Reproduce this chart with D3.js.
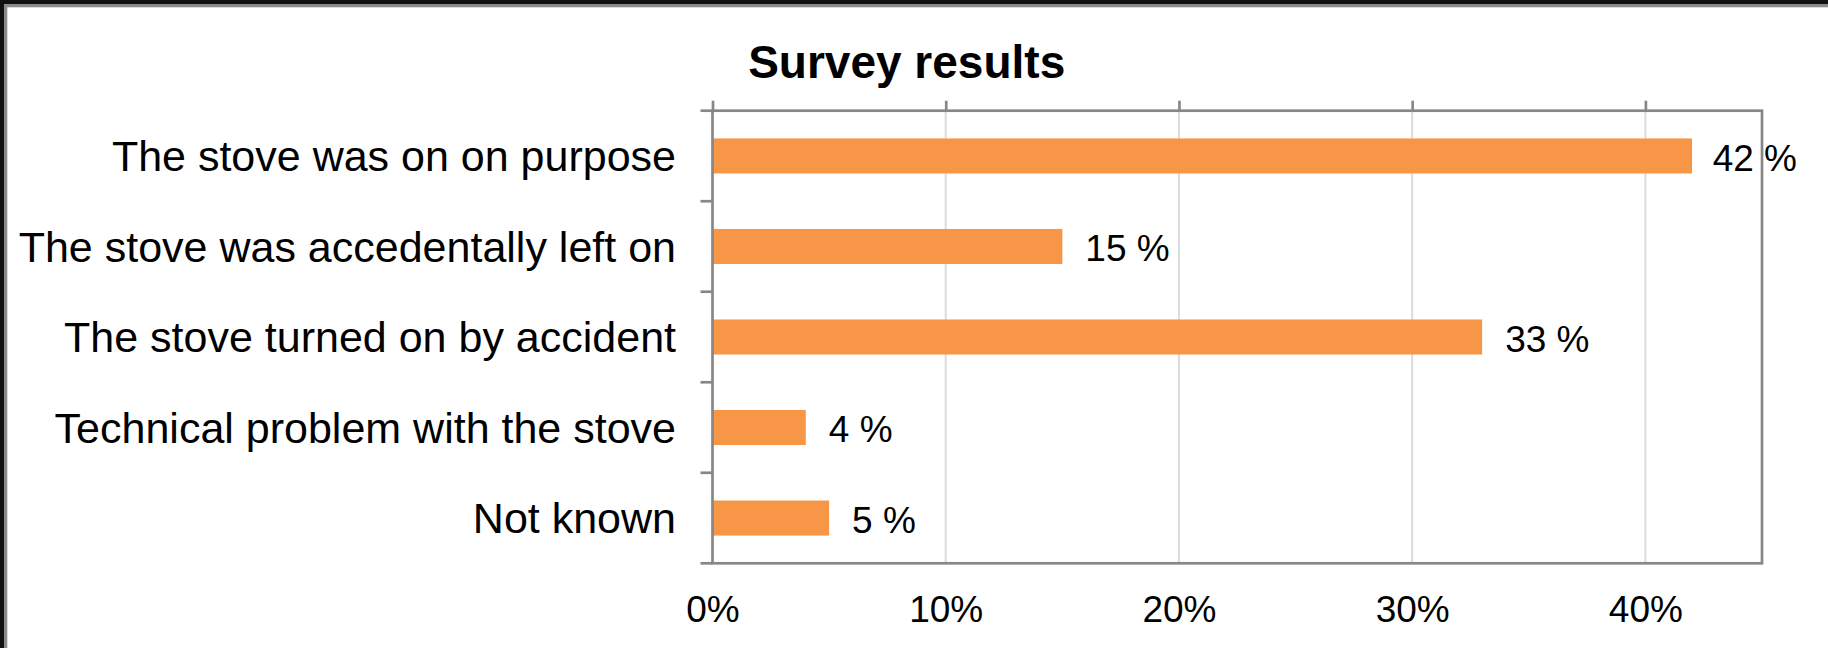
<!DOCTYPE html>
<html>
<head>
<meta charset="utf-8">
<script src="https://cdn.jsdelivr.net/npm/d3@7"></script>
<style>
  html, body { margin: 0; padding: 0; background: #ffffff; }
  svg { display: block; }
  text { font-family: "Liberation Sans", Arial, sans-serif; fill: #000; }
</style>
</head>
<body>
<svg id="chart" width="1828" height="648"></svg>
<script>
// Survey answers and their shares (percent)
const categories = [
  "The stove was on on purpose",
  "The stove was accedentally left on",
  "The stove turned on by accident",
  "Technical problem with the stove",
  "Not known"
];
const shares = [42, 15, 33, 4, 5];
const xTicks = [0, 10, 20, 30, 40];
const xMax = 45;
const chartTitle = "Survey results";

const width = 1828, height = 648;
const plot = { left: 712.5, right: 1762, top: 110.7, bottom: 563.3 };

const svg = d3.select("#chart");

// outer frame (dark edge with grey inner band, top and left)
svg.append("rect").attr("x", 0).attr("y", 0).attr("width", width).attr("height", 4).attr("fill", "#111");
svg.append("rect").attr("x", 0).attr("y", 0).attr("width", 4).attr("height", height).attr("fill", "#111");
svg.append("rect").attr("x", 4).attr("y", 4).attr("width", width - 4).attr("height", 3.3).attr("fill", "#8a8a8a");
svg.append("rect").attr("x", 4).attr("y", 4).attr("width", 3.3).attr("height", height - 4).attr("fill", "#8a8a8a");

const x = d3.scaleLinear().domain([0, xMax]).range([plot.left, plot.right]);
const y = d3.scaleBand().domain(categories).range([plot.top, plot.bottom])
  .paddingInner(0.613).paddingOuter(0.3065);

// vertical gridlines
svg.append("g").selectAll("line").data(xTicks.filter(d => d > 0)).join("line")
  .attr("x1", d => x(d)).attr("x2", d => x(d))
  .attr("y1", plot.top).attr("y2", plot.bottom)
  .attr("stroke", "#dcdcdc").attr("stroke-width", 2);

// bars
svg.append("g").selectAll("rect").data(categories).join("rect")
  .attr("x", x(0))
  .attr("y", d => y(d))
  .attr("width", (d, i) => x(shares[i]) - x(0))
  .attr("height", y.bandwidth())
  .attr("fill", "#F79646");

// top axis: outward tick marks only
const topAxis = svg.append("g").attr("transform", `translate(0,${plot.top})`)
  .call(d3.axisTop(x).tickValues(xTicks).tickSize(10).tickFormat(""));
topAxis.select(".domain").remove();
topAxis.selectAll("line").attr("stroke", "#878787").attr("stroke-width", 2.7);

// bottom axis: labels only
const bottomAxis = svg.append("g").attr("transform", `translate(0,${plot.bottom})`)
  .call(d3.axisBottom(x).tickValues(xTicks).tickSize(0).tickFormat(d => d + "%"));
bottomAxis.select(".domain").remove();
bottomAxis.selectAll("text")
  .attr("y", 58.4).attr("dy", null)
  .style("font-family", "'Liberation Sans', Arial, sans-serif")
  .style("font-size", "37px").attr("fill", "#000");

// category boundary ticks on the left
const step = y.step();
const boundaries = d3.range(categories.length + 1).map(i => plot.top + i * step);
svg.append("g").selectAll("line").data(boundaries).join("line")
  .attr("x1", plot.left - 12).attr("x2", plot.left)
  .attr("y1", d => d).attr("y2", d => d)
  .attr("stroke", "#878787").attr("stroke-width", 2.7);

// plot frame
svg.append("rect")
  .attr("x", plot.left).attr("y", plot.top)
  .attr("width", plot.right - plot.left).attr("height", plot.bottom - plot.top)
  .attr("fill", "none").attr("stroke", "#878787").attr("stroke-width", 2.7);

// category labels
svg.append("g").selectAll("text").data(categories).join("text")
  .attr("x", 676)
  .attr("y", d => y(d) + y.bandwidth() / 2)
  .attr("dy", "0.35em")
  .attr("text-anchor", "end")
  .style("font-size", "43px")
  .text(d => d);

// value labels, kept inside the frame on the right
const labelLimit = width - 31;
svg.append("g").selectAll("text").data(categories).join("text")
  .attr("y", d => y(d) + y.bandwidth() / 2)
  .attr("dy", "0.4em")
  .style("font-size", "37px")
  .text((d, i) => shares[i] + " %")
  .attr("x", function (d, i) {
    const len = this.getComputedTextLength();
    return Math.min(x(shares[i]) + 23, labelLimit - len);
  });

// title
svg.append("text")
  .attr("x", 906.7).attr("y", 78.3)
  .attr("text-anchor", "middle")
  .style("font-size", "46px").style("font-weight", "bold")
  .text(chartTitle);
</script>
</body>
</html>
